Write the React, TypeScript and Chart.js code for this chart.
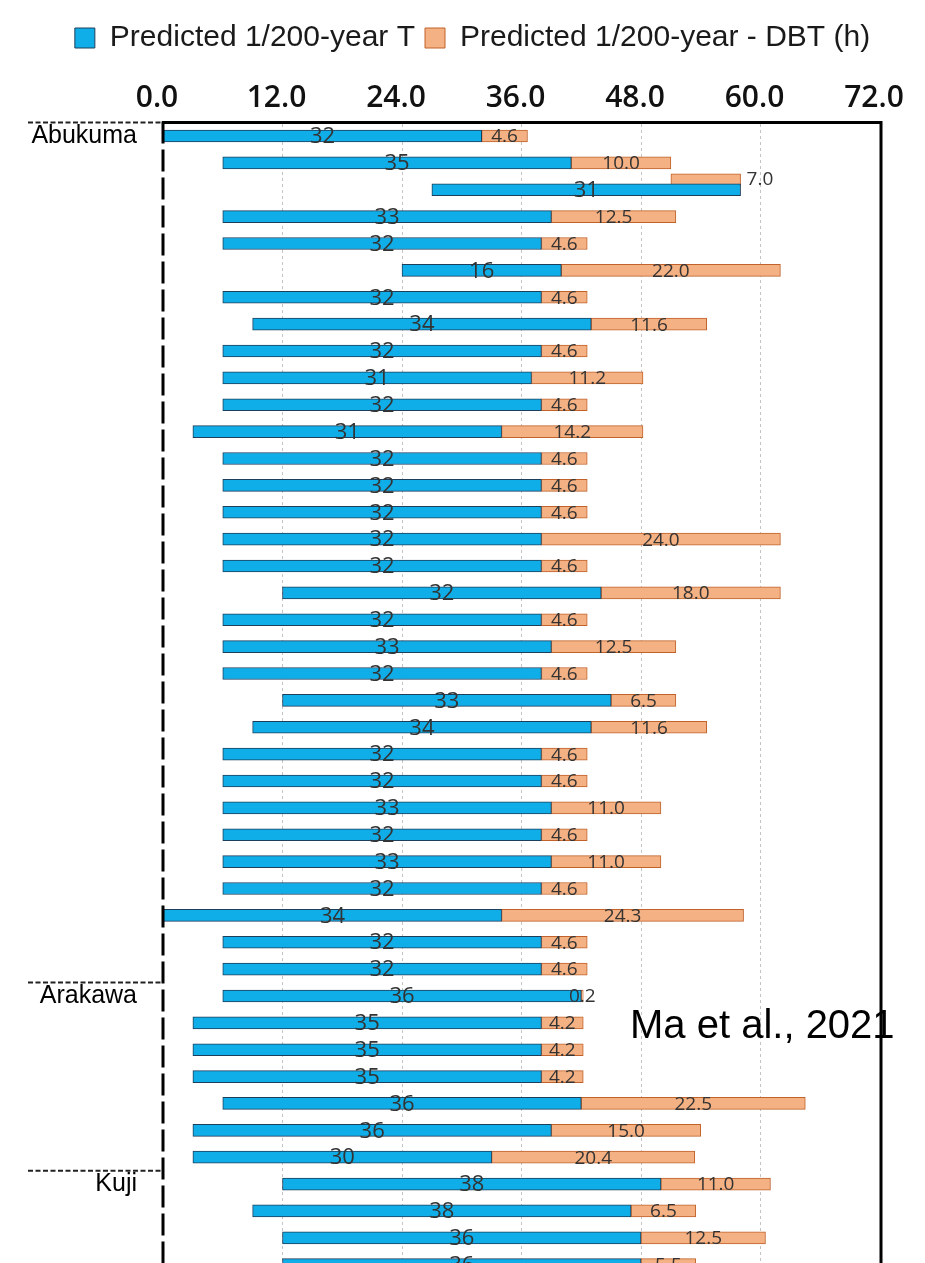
import React, { useEffect, useRef } from 'react';
import { Chart, registerables } from 'chart.js';

Chart.register(...registerables);

// Row start (h) of each predicted 1/200-year flood bar, top to bottom
const rowStarts = [
  0, 6, 27, 6, 6, 24, 6, 9, 6, 6, 6, 3, 6, 6, 6, 6, 6, 12, 6, 6, 6, 12, 9, 6, 6, 6, 6, 6, 6, 0, 6, 6,
  6, 3, 3, 3, 6, 3, 3,
  12, 9, 12, 12,
];
// Predicted 1/200-year T
const predictedT = [
  32, 35, 31, 33, 32, 16, 32, 34, 32, 31, 32, 31, 32, 32, 32, 32, 32, 32, 32, 33, 32, 33, 34, 32, 32, 33, 32, 33, 32, 34, 32, 32,
  36, 35, 35, 35, 36, 36, 30,
  38, 38, 36, 36,
];
// Predicted 1/200-year - DBT (h)
const predictedDBT = [
  4.6, 10.0, 7.0, 12.5, 4.6, 22.0, 4.6, 11.6, 4.6, 11.2, 4.6, 14.2, 4.6, 4.6, 4.6, 24.0, 4.6, 18.0, 4.6, 12.5, 4.6, 6.5, 11.6, 4.6, 4.6, 11.0, 4.6, 11.0, 4.6, 24.3, 4.6, 4.6,
  0.2, 4.2, 4.2, 4.2, 22.5, 15.0, 20.4,
  11.0, 6.5, 12.5, 5.5,
];
const basinNames = ['Abukuma', 'Arakawa', 'Kuji'];
const basinFirstRows = [0, 32, 39];
const xTickValues = [0, 12, 24, 36, 48, 60, 72];
// rows whose DBT bar sits above the T bar and ends where T ends
const dbtEndAlignedRows = [2];

const seriesNames = ['Predicted 1/200-year T', 'Predicted 1/200-year - DBT (h)'];

const CANVAS_W = 925;
const CANVAS_H = 1305;

export default function App() {
  const ref = useRef<HTMLCanvasElement | null>(null);

  useEffect(() => {
    if (!ref.current) return;
    const tData = rowStarts.map((s, i) => ({ x: [s, s + predictedT[i]], y: i }));
    const dData = rowStarts.map((s, i) => {
      const end = s + predictedT[i];
      if (dbtEndAlignedRows.includes(i)) return { x: [end - predictedDBT[i], end], y: i - 0.37 };
      return { x: [end, end + predictedDBT[i]], y: i };
    });

    const labelPlugin = {
      id: 'barLabels',
      afterDatasetsDraw(chart: any) {
        const ctx = chart.ctx;
        ctx.save();
        ctx.textBaseline = 'middle';
        ctx.fillStyle = '#333';
        const m0 = chart.getDatasetMeta(0);
        ctx.font = '22px "Open Sans"';
        ctx.textAlign = 'center';
        m0.data.forEach((el: any, i: number) => {
          const p = el.getProps(['x', 'base', 'y'], true);
          ctx.fillText(String(predictedT[i]), (p.x + p.base) / 2, p.y + 1);
        });
        const m1 = chart.getDatasetMeta(1);
        ctx.font = '19px "Open Sans"';
        m1.data.forEach((el: any, i: number) => {
          const p = el.getProps(['x', 'base', 'y'], true);
          const txt = predictedDBT[i].toFixed(1);
          if (dbtEndAlignedRows.includes(i)) {
            ctx.textAlign = 'left';
            ctx.fillText(txt, Math.max(p.x, p.base) + 6, p.y);
          } else {
            ctx.textAlign = 'center';
            ctx.fillText(txt, (p.x + p.base) / 2, p.y + 1);
          }
        });
        ctx.textAlign = 'left';
        ctx.textBaseline = 'alphabetic';
        ctx.fillStyle = '#000';
        ctx.font = '40px "Liberation Sans"';
        ctx.fillText('Ma et al., 2021', 630, 1038);
        ctx.restore();
      },
      afterDraw(chart: any) {
        const ctx = chart.ctx;
        const a = chart.chartArea;
        const ys = chart.scales.y;
        ctx.save();
        ctx.strokeStyle = '#000';
        // left dashed axis
        ctx.lineWidth = 3;
        ctx.setLineDash([22, 6]);
        ctx.beginPath();
        ctx.moveTo(a.left, a.top - 1);
        ctx.lineTo(a.left, a.bottom);
        ctx.stroke();
        // right frame
        ctx.setLineDash([]);
        ctx.beginPath();
        ctx.moveTo(a.right + 1, a.top - 1.5);
        ctx.lineTo(a.right + 1, a.bottom);
        ctx.stroke();
        // basin separators
        ctx.lineWidth = 2;
        ctx.strokeStyle = '#222';
        ctx.setLineDash([5, 2.5]);
        basinFirstRows.forEach((r) => {
          const y = ys.getPixelForValue(r - 0.5);
          ctx.beginPath();
          ctx.moveTo(28, y);
          ctx.lineTo(a.left, y);
          ctx.stroke();
        });
        ctx.restore();
      },
    };

    const chart = new Chart(ref.current, {
      type: 'bar',
      data: {
        datasets: [
          {
            label: seriesNames[0],
            data: tData as any,
            backgroundColor: '#10aee8',
            borderColor: '#1d3f5c',
            borderWidth: 1,
            borderSkipped: false,
            barThickness: 12,
            grouped: false,
          },
          {
            label: seriesNames[1],
            data: dData as any,
            backgroundColor: '#f4b183',
            borderColor: '#c0622a',
            borderWidth: 1,
            borderSkipped: false,
            barThickness: 12,
            grouped: false,
          },
        ],
      },
      options: {
        indexAxis: 'y',
        animation: false,
        responsive: false,
        devicePixelRatio: 1,
        layout: { padding: { left: 20, right: 0, top: 13, bottom: 0 } },
        plugins: {
          legend: {
            position: 'top',
            labels: {
              font: { size: 30, family: '"Liberation Sans"' },
              color: '#1a1a1a',
              boxWidth: 20,
              boxHeight: 20,
              padding: 10,
            },
          },
          tooltip: { enabled: false },
        },
        scales: {
          x: {
            type: 'linear',
            position: 'top',
            min: 0,
            max: 72,
            afterBuildTicks: (s: any) => {
              s.ticks = xTickValues.map((v) => ({ value: v }));
            },
            afterFit: (s: any) => {
              s.height = 59.6;
            },
            ticks: {
              callback: (v: any) => Number(v).toFixed(1),
              font: { family: '"Open Sans"', size: 30, weight: '600' },
              color: '#111',
              padding: 6,
              labelOffset: -6,
              maxRotation: 0,
              autoSkip: false,
            },
            grid: {
              drawTicks: false,
              color: (c: any) =>
                c.tick && (c.tick.value === 0 || c.tick.value === 72) ? 'rgba(0,0,0,0)' : '#c4c4c4',
              lineWidth: 1,
            },
            border: { display: true, color: '#000', width: 3, dash: [3, 3] },
          },
          y: {
            type: 'linear',
            position: 'left',
            reverse: true,
            min: -0.5,
            max: 43.5,
            offset: false,
            afterBuildTicks: (s: any) => {
              s.ticks = basinFirstRows.map((v) => ({ value: v }));
            },
            afterFit: (s: any) => {
              s.width = 143;
              s.paddingTop = 0;
              s.paddingBottom = 0;
            },
            ticks: {
              callback: (v: any) => {
                const k = basinFirstRows.indexOf(Number(v));
                return k >= 0 ? basinNames[k] : '';
              },
              font: { family: '"Liberation Sans"', size: 25 },
              color: '#000',
              padding: 26,
              autoSkip: false,
            },
            grid: { display: false, drawTicks: false },
            border: { display: false },
          },
          yRight: {
            type: 'linear',
            position: 'right',
            axis: 'y',
            min: 0,
            max: 1,
            afterFit: (s: any) => {
              s.width = 45;
              s.paddingTop = 0;
              s.paddingBottom = 0;
            },
            ticks: { display: false },
            grid: { display: false, drawTicks: false },
            border: { display: false },
          },
        },
      } as any,
      plugins: [labelPlugin],
    });
    return () => chart.destroy();
  }, []);

  return (
    <div
      style={{
        position: 'fixed',
        left: 0,
        top: 0,
        width: 925,
        height: 1263,
        overflow: 'hidden',
        background: '#fff',
      }}
    >
      <canvas
        ref={ref}
        width={CANVAS_W}
        height={CANVAS_H}
        style={{ display: 'block', width: CANVAS_W, height: CANVAS_H }}
      />
    </div>
  );
}
